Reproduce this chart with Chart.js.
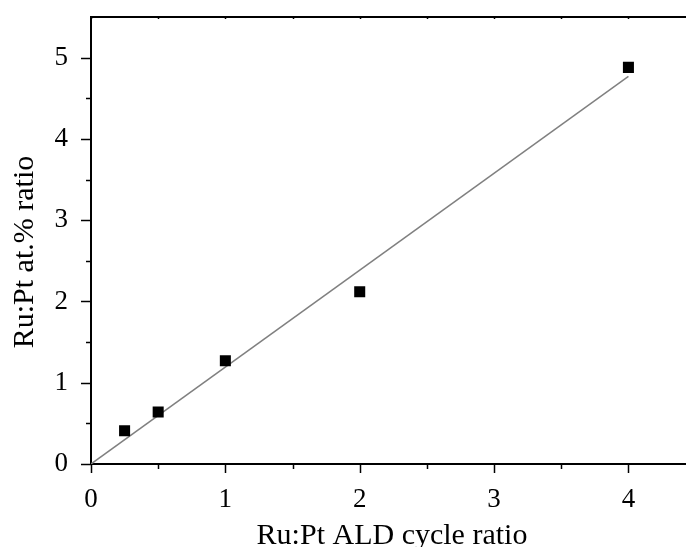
<!DOCTYPE html>
<html>
<head>
<meta charset="utf-8">
<script src="https://cdn.jsdelivr.net/npm/chart.js@4"></script>
<style>
  html, body { margin: 0; padding: 0; background: #fff; overflow: hidden; }
  /* um pouco mais largo que a janela: o eixo x segue até a borda direita */
  #wrap { position: relative; width: 694px; height: 547px; }
  #grafico { display: block; }
</style>
</head>
<body>
<div id="wrap"><canvas id="grafico"></canvas></div>
<script>
// dados medidos
const cicloRatio = [0.25, 0.5, 1, 2, 4];
const atRatio = [0.41, 0.64, 1.27, 2.12, 4.88];

// reta ajustada (extremos)
const ajusteX = [0, 4];
const ajusteY = [0, 4.77];

// marcas dos eixos
const xTicks = [0, 1, 2, 3, 4];
const xMenores = [0.5, 1.5, 2.5, 3.5];
const yTicks = [0, 1, 2, 3, 4, 5];
const yMenores = [0.5, 1.5, 2.5, 3.5, 4.5];

const tituloX = 'Ru:Pt ALD cycle ratio';
const tituloY = 'Ru:Pt at.% ratio';

const fonte = '"Liberation Serif", "Times New Roman", serif';

// desenha as marquinhas (maiores e menores), a borda de cima e os títulos
const eixosPlugin = {
  id: 'eixos',
  afterDraw(chart) {
    const { ctx, chartArea, scales } = chart;
    const x = scales.x, y = scales.y;
    ctx.save();
    ctx.strokeStyle = '#000';
    ctx.lineWidth = 2;

    // borda superior
    ctx.beginPath();
    ctx.moveTo(chartArea.left - 1, chartArea.top);
    ctx.lineTo(chart.width, chartArea.top);
    ctx.stroke();

    ctx.lineWidth = 1.5;
    const marcaY = (v, len) => {
      const p = Math.round(y.getPixelForValue(v)) + 0.5;
      ctx.beginPath();
      ctx.moveTo(chartArea.left - len, p);
      ctx.lineTo(chartArea.left, p);
      ctx.stroke();
    };
    const marcaX = (v, len) => {
      const p = Math.round(x.getPixelForValue(v)) + 0.5;
      ctx.beginPath();
      ctx.moveTo(p, chartArea.bottom);
      ctx.lineTo(p, chartArea.bottom + len);
      ctx.stroke();
      // marca curta para dentro na borda de cima
      ctx.beginPath();
      ctx.moveTo(p, chartArea.top);
      ctx.lineTo(p, chartArea.top + 2);
      ctx.stroke();
    };
    yTicks.forEach(v => marcaY(v, 10));
    yMenores.forEach(v => marcaY(v, 5));
    xTicks.forEach(v => marcaX(v, 9));
    xMenores.forEach(v => marcaX(v, 5));

    // títulos
    ctx.fillStyle = '#000';
    ctx.font = '30px ' + fonte;
    ctx.textAlign = 'center';
    ctx.textBaseline = 'alphabetic';
    ctx.fillText(tituloX, 392, 544);
    ctx.translate(33, 252);
    ctx.rotate(-Math.PI / 2);
    ctx.fillText(tituloY, 0, 0);
    ctx.restore();
  }
};

const ctx = document.getElementById('grafico').getContext('2d');

const grafico = new Chart(ctx, {
  data: {
    datasets: [
      {
        type: 'line',
        label: 'Ajuste',
        data: ajusteX.map((v, i) => ({ x: v, y: ajusteY[i] })),
        borderColor: '#808080',
        borderWidth: 1.5,
        pointRadius: 0,
        fill: false,
        order: 2
      },
      {
        type: 'scatter',
        label: 'Ru:Pt',
        data: cicloRatio.map((v, i) => ({ x: v, y: atRatio[i] })),
        pointStyle: 'rect',
        pointRadius: 7.8,
        pointBorderWidth: 0,
        backgroundColor: '#000',
        borderColor: '#000',
        order: 1
      }
    ]
  },
  options: {
    responsive: true,
    maintainAspectRatio: false,
    animation: false,
    layout: { padding: { top: 17, right: 0, left: 0, bottom: 0 } },
    plugins: {
      legend: { display: false },
      tooltip: { enabled: false }
    },
    scales: {
      x: {
        type: 'linear',
        min: 0,
        max: 4.43,
        afterBuildTicks(scale) { scale.ticks = xTicks.map(v => ({ value: v })); },
        afterFit(scale) {
          scale.height = 83;
          scale.paddingLeft = 0;
          scale.paddingRight = 0;
        },
        grid: { display: false },
        border: { display: true, color: '#000', width: 2 },
        ticks: {
          color: '#000',
          padding: 12,
          maxRotation: 0,
          font: { family: fonte, size: 27 },
          callback: v => String(v)
        }
      },
      y: {
        type: 'linear',
        min: 0,
        max: 5.5,
        afterBuildTicks(scale) { scale.ticks = yTicks.map(v => ({ value: v })); },
        afterFit(scale) {
          scale.width = 91;
          scale.paddingTop = 0;
          scale.paddingBottom = 0;
        },
        grid: { display: false },
        border: { display: true, color: '#000', width: 2 },
        ticks: {
          color: '#000',
          padding: 15,
          font: { family: fonte, size: 27 },
          callback: v => String(v)
        }
      }
    }
  },
  plugins: [eixosPlugin]
});
</script>
</body>
</html>
